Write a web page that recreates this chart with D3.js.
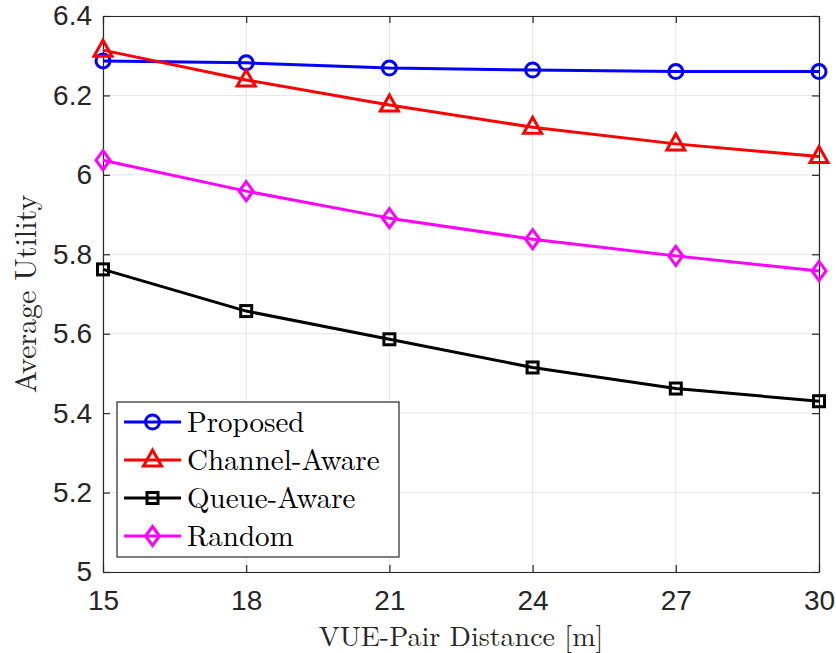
<!DOCTYPE html>
<html>
<head>
<meta charset="utf-8">
<script src="https://cdn.jsdelivr.net/npm/d3@7"></script>
<style>
  html, body { margin: 0; padding: 0; background: #fff; }
  svg { display: block; }
</style>
</head>
<body>
<script>
// Average utility versus VUE-pair distance for four scheduling schemes
const distances = [15, 18, 21, 24, 27, 30];
const proposed = [6.287, 6.282, 6.269, 6.264, 6.260, 6.260];
const channelAware = [6.314, 6.239, 6.176, 6.120, 6.078, 6.046];
const queueAware = [5.762, 5.657, 5.586, 5.515, 5.462, 5.430];
const randomScheme = [6.037, 5.959, 5.891, 5.838, 5.796, 5.758];
const xTicks = [15, 18, 21, 24, 27, 30];
const yTicks = [5, 5.2, 5.4, 5.6, 5.8, 6, 6.2, 6.4];

const series = [
  { name: "Proposed", values: proposed, color: "#0000ff", marker: "circle" },
  { name: "Channel-Aware", values: channelAware, color: "#ff0000", marker: "triangle" },
  { name: "Queue-Aware", values: queueAware, color: "#000000", marker: "square" },
  { name: "Random", values: randomScheme, color: "#ff00ff", marker: "diamond" }
];

const W = 836, H = 653;
const m = { left: 103, right: 17, top: 16, bottom: 81 };
const pw = W - m.left - m.right, ph = H - m.top - m.bottom;

const svg = d3.select("body").append("svg").attr("width", W).attr("height", H);
const g = svg.append("g").attr("transform", `translate(${m.left},${m.top})`);

const x = d3.scaleLinear().domain([15, 30]).range([0, pw]);
const y = d3.scaleLinear().domain([5, 6.4]).range([ph, 0]);

// grid
g.append("g").selectAll("line").data(xTicks).join("line")
  .attr("x1", d => x(d)).attr("x2", d => x(d)).attr("y1", 0).attr("y2", ph)
  .attr("stroke", "#e6e6e6").attr("stroke-width", 1);
g.append("g").selectAll("line").data(yTicks).join("line")
  .attr("y1", d => y(d)).attr("y2", d => y(d)).attr("x1", 0).attr("x2", pw)
  .attr("stroke", "#e6e6e6").attr("stroke-width", 1);

// axes
const tickFont = "'Liberation Sans', Arial, Helvetica, sans-serif";
const xAxis = g.append("g").attr("transform", `translate(0,${ph})`)
  .call(d3.axisBottom(x).tickValues(xTicks).tickFormat(d3.format("d")).tickSizeInner(-7).tickSizeOuter(0).tickPadding(18));
const yAxis = g.append("g")
  .call(d3.axisLeft(y).tickValues(yTicks).tickFormat(d => d3.format("")(+d.toFixed(1))).tickSizeInner(-7).tickSizeOuter(0).tickPadding(11));
const xTop = g.append("g").call(d3.axisTop(x).tickValues(xTicks).tickFormat("").tickSizeInner(-7).tickSizeOuter(0));
const yRight = g.append("g").attr("transform", `translate(${pw},0)`)
  .call(d3.axisRight(y).tickValues(yTicks).tickFormat("").tickSizeInner(-7).tickSizeOuter(0));

[xAxis, yAxis, xTop, yRight].forEach(a => {
  a.selectAll("path.domain").attr("stroke", "#262626").attr("stroke-width", 1.2);
  a.selectAll(".tick line").attr("stroke", "#262626").attr("stroke-width", 1.2);
  a.selectAll("text").attr("fill", "#262626").style("font-family", tickFont).style("font-size", "28px");
});
xAxis.selectAll("text").attr("dy", "0.71em");

// lines
const line = d3.line().x((d, i) => x(distances[i])).y(d => y(d));
const lw = 3;

function drawMarker(sel, type, color) {
  if (type === "circle") {
    sel.append("circle").attr("r", 7).attr("fill", "none").attr("stroke", color).attr("stroke-width", lw);
  } else if (type === "triangle") {
    sel.append("path").attr("d", "M0,-10 L9,6 L-9,6 Z").attr("fill", "none").attr("stroke", color).attr("stroke-width", lw).attr("stroke-linejoin", "miter");
  } else if (type === "square") {
    sel.append("rect").attr("x", -5.5).attr("y", -5.5).attr("width", 11).attr("height", 11).attr("fill", "none").attr("stroke", color).attr("stroke-width", lw);
  } else if (type === "diamond") {
    sel.append("path").attr("d", "M0,-9.5 L7,0 L0,9.5 L-7,0 Z").attr("fill", "none").attr("stroke", color).attr("stroke-width", lw);
  }
}

series.forEach(s => {
  g.append("path").datum(s.values).attr("d", line)
    .attr("fill", "none").attr("stroke", s.color).attr("stroke-width", lw).attr("stroke-linejoin", "round");
  s.values.forEach((v, i) => {
    const mk = g.append("g").attr("transform", `translate(${x(distances[i])},${y(v)})`);
    drawMarker(mk, s.marker, s.color);
  });
});

// axis titles
const serif = "'Latin Modern Roman', 'CMU Serif', 'Liberation Serif', 'DejaVu Serif', serif";
svg.append("text").attr("x", m.left + pw / 2).attr("y", 646)
  .attr("text-anchor", "middle").attr("fill", "#262626")
  .style("font-family", serif).style("font-size", "28px").text("VUE-Pair Distance [m]");
svg.append("text").attr("transform", `translate(36,${m.top + ph / 2}) rotate(-90)`)
  .attr("text-anchor", "middle").attr("fill", "#262626")
  .style("font-family", serif).style("font-size", "30px").text("Average Utility");

// legend
const lg = svg.append("g").attr("transform", "translate(117,402)");
lg.append("rect").attr("width", 282).attr("height", 155).attr("fill", "#fff")
  .attr("stroke", "#262626").attr("stroke-width", 1.2);
series.forEach((s, i) => {
  const cy = 20 + i * 38;
  const row = lg.append("g").attr("transform", `translate(0,${cy})`);
  row.append("line").attr("x1", 7).attr("x2", 64).attr("y1", 0).attr("y2", 0)
    .attr("stroke", s.color).attr("stroke-width", lw);
  const mk = row.append("g").attr("transform", "translate(35.5,0)");
  drawMarker(mk, s.marker, s.color);
  row.append("text").attr("x", 70).attr("y", 0).attr("dy", "0.35em")
    .attr("fill", "#000").style("font-family", serif).style("font-size", "29px").text(s.name);
});
</script>
</body>
</html>
